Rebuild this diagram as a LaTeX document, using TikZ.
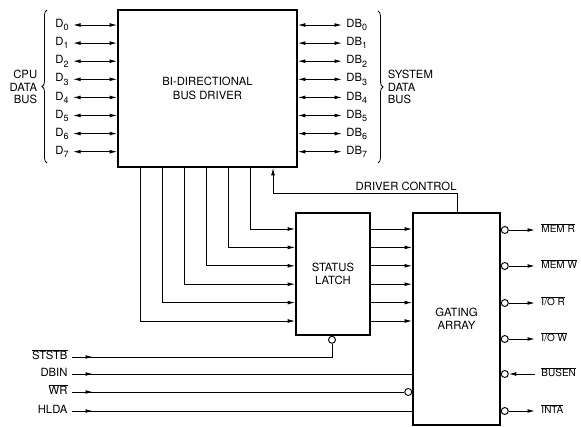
\documentclass[tikz,border=0pt]{standalone}
\usepackage{fontspec}
\setmainfont{TeX Gyre Heros}
\usetikzlibrary{arrows.meta,positioning,decorations.pathreplacing}
\newcommand{\lowsub}[1]{\raisebox{-3.2pt}{\fontsize{9}{9}\selectfont#1}}

\begin{document}
\begin{tikzpicture}[x=1pt,y=-1pt,font=\fontsize{11.3}{12.5}\selectfont,
  >={Latex[length=7.5pt,width=3.8pt]},line width=0.95pt,
  blk/.style={draw,line width=1.6pt,align=center,inner sep=0pt},
  bub/.style={draw,circle,minimum size=7pt,inner sep=0pt,line width=0.95pt},
  lbl/.style={inner sep=2pt,inner xsep=4pt},
  olbl/.style={inner sep=2pt,inner xsep=6pt,anchor=mid west,font=\fontsize{10}{12}\selectfont},
  brc/.style={decorate,decoration={brace,amplitude=5pt},line width=0.8pt}]
\useasboundingbox (0,0) rectangle (581,427);
% blocks
\node[blk,minimum width=179pt,minimum height=157pt] (drv) at (207.5,88.5) {BI-DIRECTIONAL\\[2pt]BUS DRIVER};
\node[blk,minimum width=74pt,minimum height=122pt] (latch) at (333,274) {STATUS\\LATCH};
\node[blk,minimum width=87pt,minimum height=212pt] (gate) at (456.5,319) {GATING\\ARRAY};
% data buses
\foreach \i in {0,...,7}{
  \node[lbl,anchor=mid east] (d\i) at (73,{25+18.1*\i}) {D\lowsub{\i}};
  \node[lbl,anchor=mid west] (db\i) at (342,{25+18.1*\i}) {DB\lowsub{\i}};
  \draw[<->] (d\i.mid east) -- (d\i.mid east -| drv.west);
  \draw[<->] (drv.east |- db\i.mid west) -- (db\i.mid west);
}
\coordinate (lbt) at (47,10); \coordinate (lbb) at (47,163);
\coordinate (rbt) at (378,11); \coordinate (rbb) at (378,163);
\draw[brc] (lbb) -- (lbt);
\draw[brc] (rbt) -- (rbb);
\node[anchor=east,align=right] (cpu) at (41,87) {CPU\\DATA\\BUS};
\node[anchor=west,align=left] (sys) at (384,87) {SYSTEM\\DATA\\BUS};
% driver control
\coordinate (dctl) at (457,193);
\draw[->] (gate.north -| dctl) -- (dctl) -| ([xshift=65.5pt]drv.south);
\node[anchor=south east,inner sep=2pt] (dclbl) at ([xshift=2pt]dctl) {DRIVER CONTROL};
% status lines
\foreach \k [evaluate=\k as \yy using 321-18.4*\k,
             evaluate=\k as \xx using 23+22*\k] in {0,...,5}{
  \draw[->] ([xshift=\xx pt]drv.south west) |- (latch.west |- 0,\yy);
  \draw[->] (latch.east |- 0,\yy) -- (gate.west |- 0,\yy);
}
% inputs
\node[lbl,anchor=mid east] (ststb) at (72,357) {$\overline{\mbox{STSTB}}$};
\node[lbl,anchor=mid east] (dbin) at (72,374) {DBIN};
\node[lbl,anchor=mid east] (wr) at (72,392) {$\overline{\mbox{WR}}$};
\node[lbl,anchor=mid east] (hlda) at (72,411) {HLDA};
\node[bub,anchor=north] (lbub) at ([xshift=-1pt]latch.south) {};
\node[bub,anchor=east] (wbub) at (gate.west |- wr.mid east) {};
\draw (ststb.mid east) -| (lbub.south);
\draw (dbin.mid east) -- (dbin.mid east -| gate.west);
\draw (wr.mid east) -- (wbub.west);
\draw (hlda.mid east) -- (hlda.mid east -| gate.west);
\foreach \n in {ststb,dbin,wr,hlda} \draw[->] (\n.mid east) -- ++(21,0);
% outputs
\foreach \y/\n/\t in {230/memr/{MEM R},266/memw/{MEM W},303/ior/{I/O R},339/iow/{I/O W},411/inta/{INTA}}{
  \node[bub,anchor=west] (b\n) at (gate.east |- 0,\y) {};
  \node[olbl] (\n) at (535,\y) {$\overline{\mbox{\t}}$};
  \draw[->] (b\n.east) -- (b\n.east -| \n.mid west);
}
\node[bub,anchor=west] (bbusen) at (gate.east |- 0,374) {};
\node[olbl] (busen) at (535,374) {$\overline{\mbox{BUSEN}}$};
\draw[<-] (bbusen.east) -- (bbusen.east -| busen.mid west);
\end{tikzpicture}
\end{document}
